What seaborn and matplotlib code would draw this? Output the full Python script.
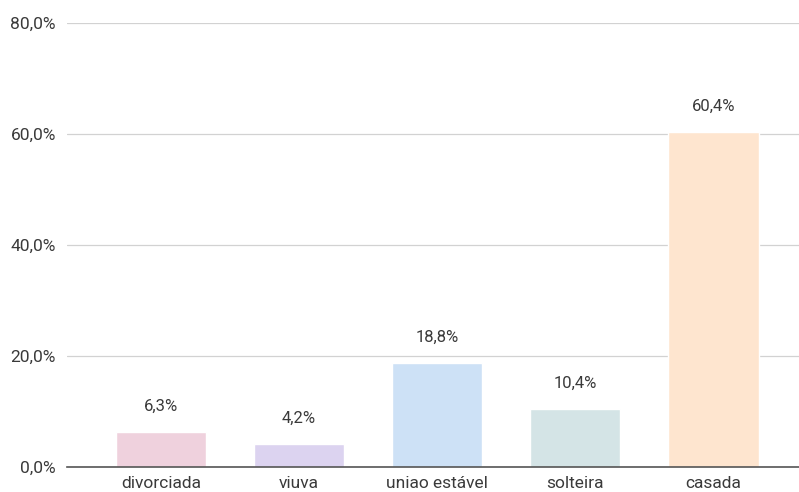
import matplotlib
matplotlib.use("Agg")
import matplotlib.pyplot as plt
import seaborn as sns
import pandas as pd
from matplotlib.ticker import FuncFormatter

categorias = ["divorciada", "viuva", "uniao estável", "solteira", "casada"]
percentuais = [6.3, 4.2, 18.8, 10.4, 60.4]
cores = ["#EFD1DD", "#DCD3F0", "#CDE1F6", "#D4E4E6", "#FEE5CF"]

df = pd.DataFrame({"estado": categorias, "pct": percentuais})

sns.set_theme(style="white")
plt.rcParams["font.family"] = ["Roboto", "DejaVu Sans"]

fig = plt.figure(figsize=(7.99, 4.92), dpi=100)
ax = fig.add_axes([0.0839, 0.0508, 0.9161, 0.9025])

sns.barplot(data=df, x="estado", y="pct", hue="estado", palette=cores,
            width=0.655, legend=False, ax=ax, saturation=1)

ax.set_ylim(0, 80)
ax.set_xlim(-0.68, 4.62)
ax.set_yticks([0, 20, 40, 60, 80])
ax.yaxis.set_major_formatter(FuncFormatter(lambda v, p: f"{v:.1f}%".replace(".", ",")))
ax.grid(axis="y", color="#D2D2D2", linewidth=0.9)
ax.set_axisbelow(True)
for s in ["top", "right", "left"]:
    ax.spines[s].set_visible(False)
ax.spines["bottom"].set_color("#555555")
ax.spines["bottom"].set_linewidth(1.2)
ax.spines["bottom"].set_zorder(5)
ax.tick_params(axis="both", length=0, labelsize=12.5, colors="#3A3A3A")
ax.tick_params(axis="y", pad=8)
ax.tick_params(axis="x", pad=6.5)
ax.set_xlabel("")
ax.set_ylabel("")

for i, v in enumerate(percentuais):
    ax.annotate(f"{v:.1f}%".replace(".", ","), (i, v), xytext=(0, 18.5),
                textcoords="offset points", ha="center", va="center",
                fontsize=12, color="#3A3A3A")

fig.savefig("out.png", dpi=100)
